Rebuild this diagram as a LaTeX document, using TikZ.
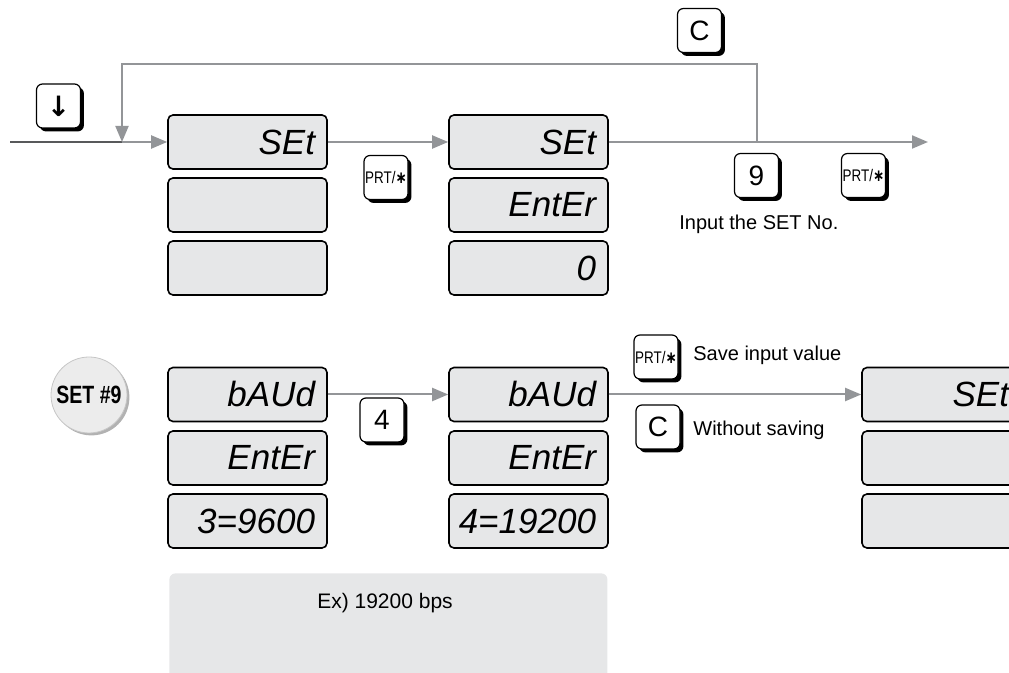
\documentclass[tikz,border=0pt]{standalone}
\usepackage{fontspec}
\setmainfont{Liberation Sans}
\newfontfamily\symfont{DejaVu Sans}
\usetikzlibrary{arrows.meta,shadows}

\definecolor{lcdbg}{HTML}{E6E7E8}
\definecolor{flowgray}{HTML}{939598}
\definecolor{linedark}{HTML}{58595B}
\newcommand{\lcdtxt}[1]{\makebox[67.5pt][r]{#1}}
\newcommand{\prtkey}{\scalebox{0.8}[1]{PRT/{\symfont\bfseries ∗}}}

\begin{document}
\begin{tikzpicture}[x=0.5pt, y=-0.5pt, >={Triangle[length=8pt,width=6.5pt]},
    lcd/.style={draw, line width=0.8pt, rounded corners=2.5pt, fill=lcdbg,
      minimum width=79.5pt, minimum height=27pt, inner sep=0pt,
      font=\itshape\fontsize{17.5}{17.5}\selectfont},
    key/.style={draw, fill=white, line width=0.6pt, rounded corners=3pt,
      minimum size=22pt, inner sep=0pt, font=\fontsize{14}{14}\selectfont,
      drop shadow={shadow xshift=1.7pt, shadow yshift=-1.7pt, opacity=1, fill=black}},
    prt/.style={key, font=\fontsize{8.4}{8.4}\selectfont},
    flow/.style={->, draw=flowgray, line width=1pt},
    lbl/.style={anchor=west, inner sep=0pt, font=\fontsize{10}{12}\selectfont}]
  \useasboundingbox (0,0) rectangle (1009,673);

  % upper row: enter the SET menu
  \node[lcd] (a1) at (247.5,142) {\lcdtxt{SEt}};
  \node[lcd] (a2) at (247.5,205) {};
  \node[lcd] (a3) at (247.5,268) {};
  \node[lcd] (b1) at (528.5,142) {\lcdtxt{SEt}};
  \node[lcd] (b2) at (528.5,205) {\lcdtxt{EntEr}};
  \node[lcd] (b3) at (528.5,268) {\lcdtxt{0}};

  \node[key] (kdown) at (58.5,106) {\symfont\bfseries ↓};
  \node[key] (kc1) at (699.5,30.5) {C};
  \node[prt] (kprt1) at (386,177.5) {\prtkey};
  \node[key] (k9) at (756.5,175.5) {9};
  \node[prt] (kprt2) at (863.5,175.5) {\prtkey};
  \node[lbl] (setno) at (679,224) {Input the SET No.};

  \coordinate (entry) at (10,142);
  \coordinate (join) at (122,142);
  \coordinate (split) at (757,142);
  \coordinate (exit) at (928,142);
  \coordinate (loopr) at (757,64);
  \coordinate (loopl) at (122,64);
  \draw[draw=linedark, line width=1pt] (entry) -- (join);
  \draw[flow] (join) -- (a1.west);
  \draw[flow] (split) -- (loopr) -- (loopl) -- (join);
  \draw[flow] (a1.east) -- (b1.west);
  \draw[flow] (b1.east) -- (exit);

  % lower row: SET #9, baud rate
  \node[circle, minimum size=38pt, inner sep=0pt, fill=gray!15, draw=gray!45,
    line width=0.4pt, drop shadow={shadow xshift=1.2pt, shadow yshift=-1.2pt, opacity=1, fill=gray!60},
    font=\bfseries\fontsize{12.5}{12.5}\selectfont] (set9) at (89,395) {\scalebox{0.78}[1]{SET \#9}};

  \node[lcd] (c1) at (247.5,394.5) {\lcdtxt{bAUd}};
  \node[lcd] (c2) at (247.5,458) {\lcdtxt{EntEr}};
  \node[lcd] (c3) at (247.5,521) {\lcdtxt{3=9600}};
  \node[lcd] (d1) at (528.5,394.5) {\lcdtxt{bAUd}};
  \node[lcd] (d2) at (528.5,458) {\lcdtxt{EntEr}};
  \node[lcd] (d3) at (528.5,521) {\lcdtxt{4=19200}};
  \node[lcd] (e1) at (941.5,394.5) {\lcdtxt{SEt}};
  \node[lcd] (e2) at (941.5,458) {};
  \node[lcd] (e3) at (941.5,521) {};

  \node[key] (k4) at (382,420) {4};
  \node[prt] (kprt3) at (656,357) {\prtkey};
  \node[key] (kc2) at (658,427) {C};
  \node[lbl] (savetxt) at (693,355) {Save input value};
  \node[lbl] (nosave) at (693,430) {Without saving};

  \draw[flow] (c1.east) -- (d1.west);
  \draw[flow] (d1.east) -- (e1.west);

  % example note
  \node[fill=lcdbg, rounded corners=3pt, anchor=north west, inner sep=0pt,
    minimum width=219pt, minimum height=60pt] (exbox) at (169,573) {};
  \node[font=\fontsize{10.5}{12}\selectfont] (extxt) at (385,603) {Ex) 19200 bps};
\end{tikzpicture}
\end{document}
